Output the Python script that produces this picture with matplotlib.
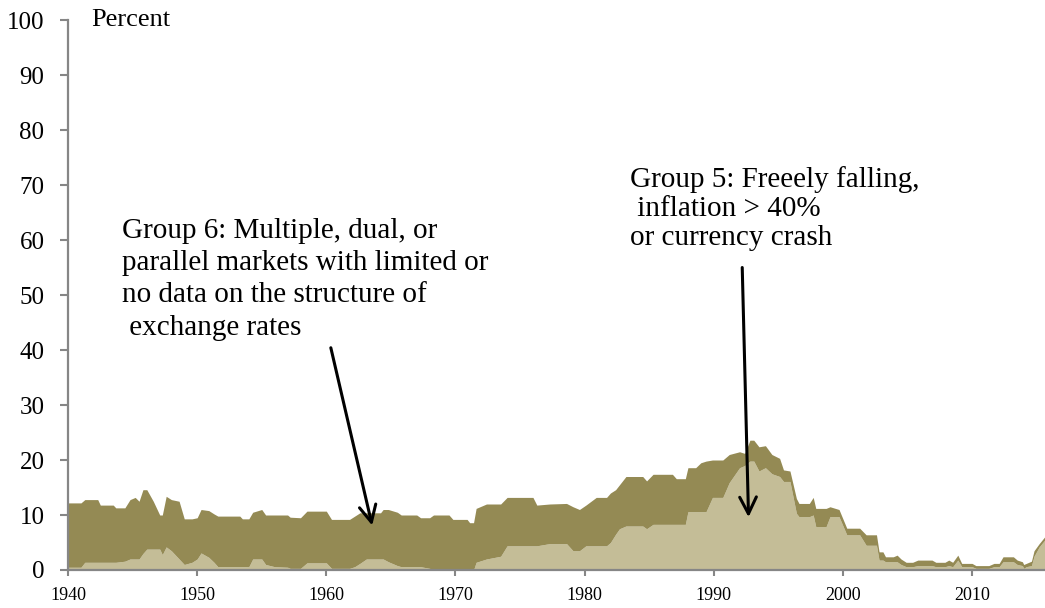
import matplotlib

matplotlib.use("Agg")
import matplotlib.pyplot as plt
import numpy as np

# share of countries by regime group
years = [
    1940.0, 1941.0, 1941.3, 1942.3, 1942.5, 1943.5, 1943.7, 1944.4, 1944.8, 1945.2,
    1945.5, 1945.8, 1946.1, 1946.6, 1947.1, 1947.3, 1947.6, 1948.0, 1948.6, 1949.0,
    1949.6, 1950.0, 1950.3, 1950.9, 1951.3, 1951.6, 1953.3, 1953.5, 1954.0, 1954.3,
    1955.0, 1955.3, 1956.0, 1957.0, 1957.2, 1958.0, 1958.5, 1960.0, 1960.4, 1961.8,
    1962.2, 1962.6, 1963.1, 1964.2, 1964.4, 1964.8, 1965.5, 1965.8, 1967.0, 1967.3,
    1968.0, 1968.3, 1969.5, 1969.8, 1970.9, 1971.1, 1971.4, 1971.6, 1972.4, 1973.5,
    1974.0, 1976.0, 1976.3, 1977.3, 1978.6, 1979.1, 1979.6, 1980.1, 1980.9, 1981.7,
    1982.0, 1982.4, 1982.7, 1983.2, 1984.5, 1984.8, 1985.3, 1986.8, 1987.1, 1987.8,
    1988.0, 1988.6, 1989.0, 1989.4, 1989.9, 1990.7, 1991.2, 1992.0, 1992.4, 1992.8,
    1993.1, 1993.5, 1994.0, 1994.5, 1995.1, 1995.4, 1995.9, 1996.4, 1996.6, 1997.4,
    1997.7, 1997.9, 1998.7, 1999.0, 1999.7, 2000.3, 2001.3, 2001.8, 2002.6, 2002.8,
    2003.1, 2003.3, 2003.9, 2004.2, 2004.5, 2004.9, 2005.4, 2005.8, 2006.9, 2007.2,
    2007.9, 2008.2, 2008.5, 2008.9, 2009.2, 2010.0, 2010.3, 2011.3, 2011.7, 2012.1,
    2012.4, 2013.2, 2013.5, 2013.9, 2014.0, 2014.2, 2014.6, 2014.8, 2015.2, 2015.65,
]
group5 = [
    0.5, 0.5, 1.4, 1.4, 1.4, 1.4, 1.4, 1.6, 2.0, 2.0,
    2.0, 3.0, 3.8, 3.8, 3.8, 2.8, 4.2, 3.5, 2.0, 1.0,
    1.4, 2.0, 3.1, 2.3, 1.4, 0.6, 0.6, 0.6, 0.6, 2.0,
    2.0, 1.0, 0.6, 0.5, 0.3, 0.3, 1.3, 1.3, 0.3, 0.3,
    0.6, 1.2, 2.0, 2.0, 2.0, 1.5, 0.8, 0.6, 0.6, 0.6,
    0.3, 0.0, 0.0, 0.0, 0.0, 0.0, 0.0, 1.4, 2.0, 2.5,
    4.4, 4.4, 4.4, 4.8, 4.8, 3.5, 3.5, 4.4, 4.4, 4.4,
    5.0, 6.5, 7.5, 8.0, 8.0, 7.5, 8.3, 8.3, 8.3, 8.3,
    10.6, 10.6, 10.6, 10.6, 13.2, 13.2, 15.9, 18.6, 19.0, 19.8,
    19.8, 18.0, 18.6, 17.5, 17.0, 16.1, 16.1, 10.3, 9.7, 9.7,
    10.0, 7.9, 7.9, 9.7, 9.7, 6.4, 6.4, 4.5, 4.5, 1.8,
    1.8, 1.5, 1.5, 1.5, 1.0, 0.6, 0.6, 0.8, 0.8, 0.6,
    0.6, 0.8, 0.6, 1.8, 0.6, 0.6, 0.3, 0.3, 0.6, 0.6,
    1.5, 1.5, 1.0, 0.8, 0.3, 0.6, 0.8, 2.5, 4.2, 5.5,
]
group5_plus_6 = [
    12.2, 12.2, 12.8, 12.8, 11.8, 11.8, 11.3, 11.3, 12.8, 13.2,
    12.5, 14.6, 14.6, 12.5, 10.0, 10.0, 13.4, 12.8, 12.5, 9.3,
    9.3, 9.5, 11.0, 10.8, 10.2, 9.8, 9.8, 9.3, 9.3, 10.5,
    11.0, 10.0, 10.0, 10.0, 9.6, 9.5, 10.7, 10.7, 9.2, 9.2,
    9.8, 10.4, 10.4, 10.4, 11.0, 11.0, 10.5, 10.0, 10.0, 9.5,
    9.5, 10.0, 10.0, 9.2, 9.2, 8.6, 8.6, 11.2, 12.0, 12.0,
    13.2, 13.2, 11.8, 12.0, 12.1, 11.5, 11.0, 11.8, 13.2, 13.2,
    14.0, 14.6, 15.5, 17.0, 17.0, 16.2, 17.4, 17.4, 16.6, 16.6,
    18.6, 18.6, 19.5, 19.8, 20.0, 20.0, 21.0, 21.5, 21.2, 23.6,
    23.6, 22.4, 22.6, 21.0, 20.3, 18.2, 18.0, 13.0, 12.1, 12.1,
    13.2, 11.2, 11.2, 11.5, 11.0, 7.6, 7.6, 6.4, 6.4, 3.3,
    3.3, 2.4, 2.4, 2.7, 2.0, 1.4, 1.4, 1.8, 1.8, 1.4,
    1.4, 1.8, 1.4, 2.7, 1.2, 1.2, 0.8, 0.8, 1.2, 1.2,
    2.4, 2.4, 1.8, 1.5, 1.0, 1.2, 1.6, 3.5, 4.8, 6.1,
]

year_ticks = [1940, 1950, 1960, 1970, 1980, 1990, 2000, 2010]
percent_ticks = [0, 10, 20, 30, 40, 50, 60, 70, 80, 90, 100]

group6_note = [
    "Group 6: Multiple, dual, or",
    "parallel markets with limited or",
    "no data on the structure of",
    " exchange rates",
]
group5_note = [
    "Group 5: Freeely falling,",
    " inflation > 40%",
    "or currency crash",
]

plt.rcParams["font.family"] = ["Liberation Serif", "DejaVu Serif"]

DARK = "#948a54"
LIGHT = "#c4bd97"
AXIS_GREY = "#868686"

x = np.array(years)
g5 = np.array(group5)
top = np.array(group5_plus_6)

figure = plt.figure(figsize=(10.45, 6.08), dpi=100)
axis = figure.add_axes([0.0651, 0.0625, 0.9349, 0.9046])

axis.fill_between(x, 0, g5, color=LIGHT, linewidth=0)
axis.fill_between(x, g5, top, color=DARK, linewidth=0)

axis.set_xlim(1940, 2015.65)
axis.set_ylim(0, 100)
axis.set_xticks(year_ticks)
axis.set_yticks(percent_ticks)

for side in ("top", "right"):
    axis.spines[side].set_visible(False)
for side in ("left", "bottom"):
    axis.spines[side].set_color(AXIS_GREY)
    axis.spines[side].set_linewidth(1.6)
    axis.spines[side].set_zorder(5)

axis.tick_params(axis="y", direction="out", length=6, width=1.5, color=AXIS_GREY,
                 pad=11, labelsize=18)
axis.tick_params(axis="x", direction="out", length=4, width=1.5, color=AXIS_GREY,
                 pad=8, labelsize=13)

axis.text(1941.8, 100, "Percent", fontsize=19, va="center", ha="left")

# annotation text, one line at a time
for label, level in zip(group6_note, [61.6, 55.8, 50.0, 44.0]):
    axis.text(1944.2, level, label, fontsize=21, va="center", ha="left")
for label, level in zip(group5_note, [71.0, 65.6, 60.4]):
    axis.text(1983.5, level, label, fontsize=21, va="center", ha="left")

arrow = dict(arrowstyle="->", color="black", lw=2.2, mutation_scale=30)
axis.annotate("", xy=(1963.6, 7.6), xytext=(1960.3, 40.9), arrowprops=arrow)
axis.annotate("", xy=(1992.7, 9.1), xytext=(1992.2, 55.5), arrowprops=arrow)

figure.savefig("out.png", dpi=100)
plt.close(figure)
